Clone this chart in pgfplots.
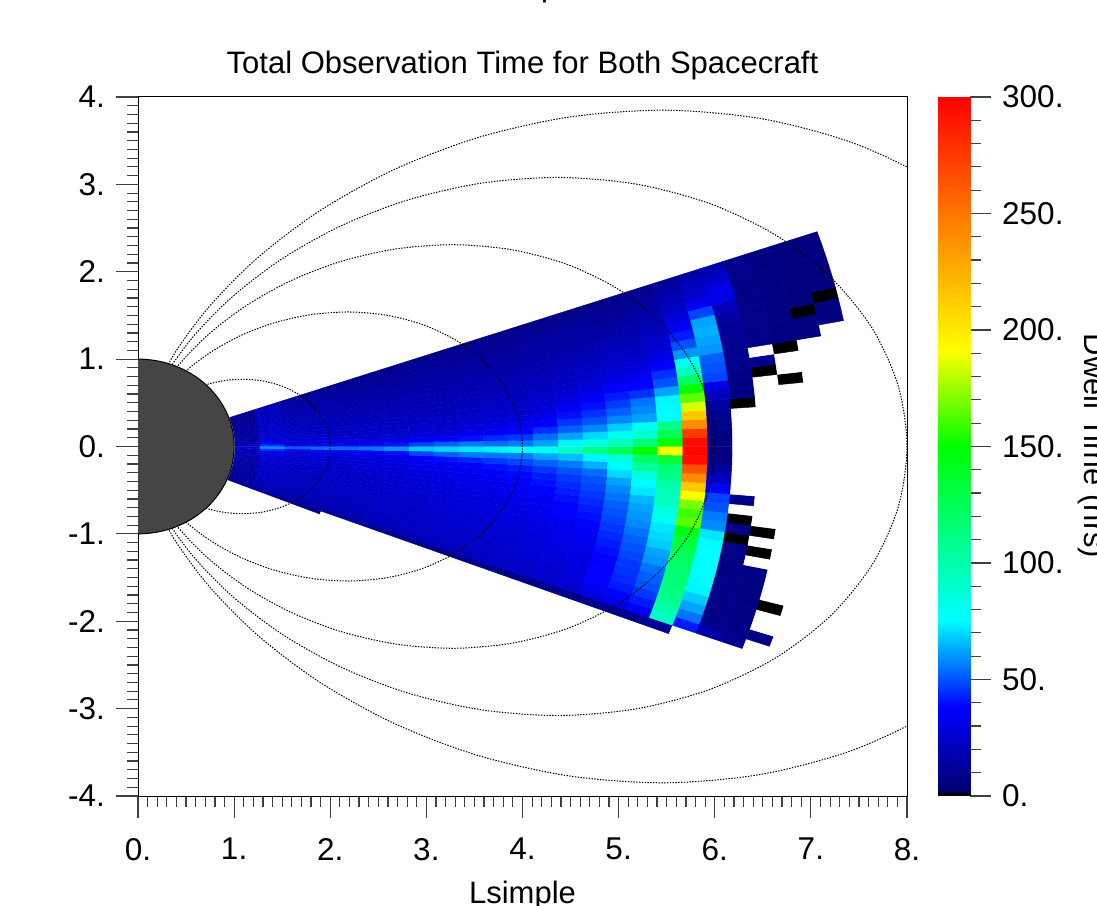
\documentclass[border=0pt]{standalone}
\usepackage{fontspec}
\setmainfont{Liberation Sans}
\usepackage{pgfplots}
\usepackage{pgfplotstable}
\pgfplotsset{compat=1.18}
\pgfplotsset{colormap={dwell}{rgb255(0)=(255,255,255) rgb255(8)=(255,255,255) rgb255(9)=(0,0,0) rgb255(11.2)=(0,0,0) rgb255(11.4)=(0,0,110) rgb255(48)=(0,0,255) rgb255(85.5)=(0,255,255) rgb255(160)=(0,255,0) rgb255(201)=(255,255,0) rgb255(310)=(255,0,0)}}
\newcommand{\bigf}{\fontsize{31.5}{36}\selectfont}
\newcommand{\titf}{\fontsize{31}{36}\selectfont}
\pgfplotstableread{
u v
0.01734 -0.06471
0.04001 -0.10992
0.07548 -0.16187
0.12500 -0.21651
0.18870 -0.26949
0.26559 -0.31651
0.35355 -0.35355
0.44953 -0.37720
0.54966 -0.38488
0.64952 -0.37500
0.74444 -0.34714
0.82976 -0.30201
0.90122 -0.24148
0.95511 -0.16841
0.98863 -0.08649
1.00000 0.00000
0.98863 0.08649
0.95511 0.16841
0.90122 0.24148
0.82976 0.30201
0.74444 0.34714
0.64952 0.37500
0.54966 0.38488
0.44953 0.37720
0.35355 0.35355
0.26559 0.31651
0.18870 0.26949
0.12500 0.21651
0.07548 0.16187
0.04001 0.10992
0.01734 0.06471
}\fieldshape
\begin{document}
\begin{tikzpicture}[x=1pt,y=1pt]
\begin{axis}[
  at={(138pt,109pt)},anchor=south west,scale only axis,
  width=769pt,height=699pt,
  xmin=0,xmax=8,ymin=-4,ymax=4,
  xtick={0,...,8},ytick={-4,...,4},
  xticklabels={0.,1.,2.,3.,4.,5.,6.,7.,8.},
  yticklabels={-4.,-3.,-2.,-1.,0.,1.,2.,3.,4.},
  minor x tick num=9,minor y tick num=9,
  xtick pos=bottom,ytick pos=left,
  tick align=outside,
  major tick length=22pt,minor tick length=11pt,
  tick style={line width=1.2pt,color=black!75},
  axis line style={line width=1pt},
  tick label style={font=\bigf},
  xticklabel style={inner sep=0pt,yshift=-20pt},
  yticklabel style={inner sep=0pt,xshift=-11pt},
  title={Total Observation Time for Both Spacecraft},
  title style={font=\titf,yshift=8pt},
  xlabel={Lsimple},
  xlabel style={font=\titf,yshift=-17pt},
  colormap name=dwell,
  point meta min=-10,point meta max=300,
]
\addplot[surf,shader=flat corner,mesh/rows=26,mesh/cols=42,point meta=explicit]
 table[row sep=\\,header=false,meta index=0,
  x expr={(1.01+0.2588*(\coordindex-mod(\coordindex,42))/42)*cos(1.01*(mod(\coordindex,42)-22))},
  y expr={(1.01+0.2588*(\coordindex-mod(\coordindex,42))/42)*sin(1.01*(mod(\coordindex,42)-22))}] {
10\\ 11\\ 12\\ 12\\ 13\\ 13\\ 13\\ 14\\ 14\\ 14\\ 15\\ 15\\ 15\\ 16\\ 16\\ 17\\ 17\\ 18\\ 18\\ 19\\ 20\\ 30\\ 18\\ 17\\ 16\\ 16\\ 15\\ 15\\ 14\\ 14\\ 13\\ 13\\ 13\\ 12\\ 12\\ 12\\ 11\\ 11\\ 11\\ 10\\ 10\\ -10\\
12\\ 16\\ 18\\ 19\\ 20\\ 21\\ 22\\ 22\\ 23\\ 23\\ 24\\ 24\\ 25\\ 25\\ 26\\ 26\\ 27\\ 27\\ 30\\ 36\\ 45\\ 60\\ 46\\ 36\\ 30\\ 27\\ 26\\ 26\\ 25\\ 25\\ 24\\ 24\\ 23\\ 23\\ 23\\ 22\\ 22\\ 21\\ 21\\ 20\\ 18\\ -10\\
10\\ 14\\ 18\\ 19\\ 20\\ 20\\ 21\\ 21\\ 22\\ 22\\ 22\\ 23\\ 23\\ 24\\ 24\\ 24\\ 25\\ 25\\ 26\\ 28\\ 32\\ 52\\ 32\\ 28\\ 25\\ 24\\ 23\\ 23\\ 22\\ 22\\ 20\\ 20\\ 19\\ 19\\ 18\\ 18\\ 17\\ 17\\ 16\\ 15\\ 13\\ -10\\
9\\ 13\\ 18\\ 19\\ 20\\ 20\\ 21\\ 21\\ 22\\ 22\\ 22\\ 23\\ 23\\ 24\\ 24\\ 25\\ 26\\ 27\\ 29\\ 31\\ 34\\ 54\\ 34\\ 29\\ 26\\ 24\\ 23\\ 22\\ 22\\ 21\\ 20\\ 19\\ 18\\ 18\\ 17\\ 17\\ 16\\ 15\\ 14\\ 13\\ 10\\ -10\\
-10\\ 12\\ 18\\ 19\\ 20\\ 20\\ 21\\ 21\\ 22\\ 22\\ 23\\ 23\\ 24\\ 24\\ 25\\ 25\\ 26\\ 27\\ 28\\ 30\\ 34\\ 54\\ 34\\ 29\\ 26\\ 24\\ 23\\ 22\\ 21\\ 21\\ 20\\ 19\\ 18\\ 17\\ 17\\ 16\\ 15\\ 14\\ 13\\ 12\\ 10\\ -10\\
-10\\ 12\\ 18\\ 19\\ 20\\ 21\\ 21\\ 22\\ 22\\ 23\\ 23\\ 24\\ 24\\ 25\\ 25\\ 26\\ 27\\ 28\\ 29\\ 31\\ 36\\ 56\\ 36\\ 30\\ 27\\ 25\\ 23\\ 22\\ 21\\ 20\\ 19\\ 18\\ 18\\ 17\\ 16\\ 15\\ 14\\ 13\\ 13\\ 12\\ 9\\ -10\\
-10\\ 11\\ 19\\ 20\\ 21\\ 22\\ 22\\ 23\\ 23\\ 24\\ 24\\ 25\\ 25\\ 26\\ 26\\ 27\\ 28\\ 29\\ 30\\ 33\\ 40\\ 60\\ 40\\ 31\\ 27\\ 25\\ 24\\ 22\\ 21\\ 20\\ 19\\ 18\\ 18\\ 17\\ 16\\ 15\\ 14\\ 13\\ 12\\ 11\\ 9\\ -10\\
-10\\ 10\\ 20\\ 21\\ 22\\ 22\\ 23\\ 23\\ 24\\ 25\\ 25\\ 26\\ 26\\ 27\\ 28\\ 29\\ 30\\ 31\\ 33\\ 37\\ 48\\ 68\\ 48\\ 34\\ 29\\ 26\\ 24\\ 23\\ 22\\ 20\\ 19\\ 18\\ 18\\ 17\\ 16\\ 15\\ 13\\ 13\\ 12\\ 11\\ 9\\ -10\\
-10\\ 10\\ 21\\ 22\\ 23\\ 23\\ 24\\ 25\\ 25\\ 26\\ 27\\ 27\\ 28\\ 29\\ 30\\ 31\\ 32\\ 34\\ 36\\ 40\\ 52\\ 70\\ 52\\ 36\\ 30\\ 27\\ 25\\ 23\\ 22\\ 20\\ 19\\ 19\\ 18\\ 17\\ 16\\ 15\\ 14\\ 13\\ 12\\ 11\\ 8\\ -10\\
-10\\ 9\\ 21\\ 22\\ 24\\ 24\\ 25\\ 26\\ 26\\ 27\\ 28\\ 28\\ 29\\ 30\\ 31\\ 32\\ 33\\ 35\\ 37\\ 43\\ 56\\ 72\\ 56\\ 40\\ 33\\ 29\\ 26\\ 24\\ 23\\ 21\\ 20\\ 19\\ 18\\ 17\\ 16\\ 15\\ 14\\ 13\\ 12\\ 11\\ 8\\ -10\\
-10\\ 9\\ 22\\ 23\\ 24\\ 25\\ 26\\ 26\\ 27\\ 28\\ 29\\ 29\\ 30\\ 31\\ 32\\ 33\\ 35\\ 37\\ 40\\ 46\\ 55\\ 74\\ 54\\ 44\\ 36\\ 31\\ 28\\ 25\\ 23\\ 22\\ 20\\ 19\\ 18\\ 17\\ 16\\ 15\\ 14\\ 13\\ 12\\ 11\\ 8\\ -10\\
-10\\ 9\\ 23\\ 24\\ 25\\ 26\\ 26\\ 27\\ 28\\ 29\\ 30\\ 31\\ 32\\ 33\\ 34\\ 35\\ 37\\ 39\\ 42\\ 48\\ 56\\ 78\\ 56\\ 46\\ 38\\ 33\\ 29\\ 26\\ 24\\ 22\\ 21\\ 20\\ 19\\ 18\\ 16\\ 15\\ 14\\ 13\\ 12\\ 11\\ 8\\ -10\\
-10\\ 9\\ 24\\ 25\\ 26\\ 27\\ 28\\ 29\\ 30\\ 31\\ 32\\ 33\\ 34\\ 35\\ 36\\ 38\\ 40\\ 42\\ 46\\ 52\\ 62\\ 80\\ 62\\ 54\\ 45\\ 38\\ 33\\ 30\\ 27\\ 25\\ 23\\ 21\\ 20\\ 18\\ 17\\ 16\\ 15\\ 14\\ 13\\ 11\\ 8\\ -10\\
-10\\ 9\\ 25\\ 26\\ 27\\ 28\\ 30\\ 31\\ 32\\ 33\\ 34\\ 35\\ 37\\ 38\\ 40\\ 42\\ 44\\ 46\\ 50\\ 56\\ 66\\ 92\\ 74\\ 62\\ 52\\ 46\\ 40\\ 36\\ 32\\ 28\\ 25\\ 23\\ 21\\ 19\\ 18\\ 17\\ 15\\ 14\\ 13\\ 11\\ 8\\ -10\\
-10\\ 8\\ 26\\ 28\\ 29\\ 30\\ 31\\ 32\\ 33\\ 35\\ 36\\ 38\\ 40\\ 42\\ 44\\ 46\\ 48\\ 50\\ 54\\ 64\\ 74\\ 110\\ 84\\ 70\\ 58\\ 50\\ 45\\ 40\\ 36\\ 32\\ 28\\ 25\\ 23\\ 21\\ 19\\ 17\\ 15\\ 14\\ 13\\ 11\\ 8\\ -10\\
-10\\ 9\\ 30\\ 36\\ 38\\ 38\\ 38\\ 38\\ 40\\ 42\\ 44\\ 46\\ 48\\ 50\\ 52\\ 55\\ 58\\ 62\\ 70\\ 75\\ 85\\ 125\\ 95\\ 80\\ 68\\ 58\\ 52\\ 47\\ 42\\ 37\\ 32\\ 28\\ 25\\ 23\\ 21\\ 19\\ 16\\ 14\\ 12\\ 11\\ 8\\ -10\\
-10\\ 10\\ 32\\ 38\\ 42\\ 44\\ 45\\ 46\\ 48\\ 50\\ 52\\ 55\\ 58\\ 60\\ 62\\ 65\\ 72\\ 75\\ 85\\ 105\\ 120\\ 150\\ 115\\ 90\\ 78\\ 62\\ 58\\ 55\\ 45\\ 38\\ 35\\ 30\\ 26\\ 23\\ 21\\ 19\\ 17\\ 15\\ 13\\ 11\\ 8\\ -10\\
-10\\ 10\\ 36\\ 42\\ 46\\ 50\\ 52\\ 55\\ 60\\ 62\\ 68\\ 70\\ 72\\ 80\\ 85\\ 95\\ 95\\ 100\\ 110\\ 115\\ 135\\ 190\\ 150\\ 125\\ 110\\ 76\\ 75\\ 74\\ 62\\ 50\\ 45\\ 38\\ 32\\ 27\\ 24\\ 21\\ 19\\ 17\\ 15\\ 13\\ 9\\ -10\\
-10\\ 12\\ 92\\ 100\\ 108\\ 112\\ 115\\ 116\\ 118\\ 122\\ 128\\ 135\\ 145\\ 165\\ 160\\ 170\\ 190\\ 215\\ 240\\ 265\\ 295\\ 298\\ 295\\ 275\\ 240\\ 215\\ 185\\ 165\\ 150\\ 120\\ 95\\ 78\\ 60\\ 50\\ 42\\ 35\\ 30\\ 24\\ 20\\ 16\\ 12\\ -10\\
-10\\ -10\\ 42\\ 55\\ 62\\ 68\\ 74\\ 75\\ 76\\ 76\\ 76\\ 75\\ 72\\ 58\\ 56\\ 50\\ 48\\ 38\\ 22\\ 14\\ 8\\ 6\\ 6\\ 7\\ 8\\ 10\\ 14\\ 22\\ 32\\ 48\\ 50\\ 52\\ 60\\ 62\\ 64\\ 62\\ 48\\ 35\\ 26\\ 22\\ 16\\ -10\\
-10\\ -10\\ 16\\ 9\\ 8\\ 8\\ 8\\ 8\\ 8\\ 7\\ 7\\ 8\\ 0.5\\ 9\\ 0.5\\ -10\\ 8\\ -10\\ -10\\ -10\\ -10\\ -10\\ -10\\ -10\\ -10\\ -10\\ 0.5\\ 7\\ 7\\ 8\\ 9\\ 9\\ 10\\ 12\\ 12\\ 15\\ 20\\ 32\\ 32\\ 25\\ 18\\ -10\\
-10\\ -10\\ 10\\ 8\\ 7\\ 7\\ 7\\ 7\\ 7\\ 7\\ -10\\ 0.5\\ -10\\ 0.5\\ -10\\ -10\\ -10\\ -10\\ -10\\ -10\\ -10\\ -10\\ -10\\ -10\\ -10\\ -10\\ -10\\ -10\\ -10\\ 0.5\\ 9\\ -10\\ 8\\ 8\\ 8\\ 8\\ 8\\ 8\\ 8\\ 9\\ 9\\ -10\\
-10\\ -10\\ -10\\ 7\\ -10\\ -10\\ 0.5\\ -10\\ -10\\ -10\\ -10\\ -10\\ -10\\ -10\\ -10\\ -10\\ -10\\ -10\\ -10\\ -10\\ -10\\ -10\\ -10\\ -10\\ -10\\ -10\\ -10\\ -10\\ 0.5\\ -10\\ -10\\ 0.5\\ 7\\ 7\\ 7\\ 7\\ 7\\ 7\\ 7\\ 7\\ 7\\ -10\\
-10\\ -10\\ -10\\ -10\\ -10\\ -10\\ -10\\ -10\\ -10\\ -10\\ -10\\ -10\\ -10\\ -10\\ -10\\ -10\\ -10\\ -10\\ -10\\ -10\\ -10\\ -10\\ -10\\ -10\\ -10\\ -10\\ -10\\ -10\\ -10\\ -10\\ -10\\ -10\\ 6\\ 6\\ 0.5\\ 6\\ 6\\ 6\\ 6\\ 6\\ 6\\ -10\\
-10\\ -10\\ -10\\ -10\\ -10\\ -10\\ -10\\ -10\\ -10\\ -10\\ -10\\ -10\\ -10\\ -10\\ -10\\ -10\\ -10\\ -10\\ -10\\ -10\\ -10\\ -10\\ -10\\ -10\\ -10\\ -10\\ -10\\ -10\\ -10\\ -10\\ -10\\ -10\\ -10\\ 6\\ 6\\ 0.5\\ 6\\ 6\\ 6\\ 6\\ 6\\ -10\\
-10\\ -10\\ -10\\ -10\\ -10\\ -10\\ -10\\ -10\\ -10\\ -10\\ -10\\ -10\\ -10\\ -10\\ -10\\ -10\\ -10\\ -10\\ -10\\ -10\\ -10\\ -10\\ -10\\ -10\\ -10\\ -10\\ -10\\ -10\\ -10\\ -10\\ -10\\ -10\\ -10\\ -10\\ -10\\ -10\\ -10\\ -10\\ -10\\ -10\\ -10\\ -10\\
};
\pgfplotsset{fieldline/.style={black,line width=1pt,dash pattern=on 1.4pt off 1.4pt,smooth,mark=none}}
\addplot[fieldline] table[x expr=\thisrow{u}*2,y expr=\thisrow{v}*2] {\fieldshape};
\addplot[fieldline] table[x expr=\thisrow{u}*4,y expr=\thisrow{v}*4] {\fieldshape};
\addplot[fieldline] table[x expr=\thisrow{u}*6,y expr=\thisrow{v}*6] {\fieldshape};
\addplot[fieldline] table[x expr=\thisrow{u}*8,y expr=\thisrow{v}*8] {\fieldshape};
\addplot[fieldline] table[x expr=\thisrow{u}*10,y expr=\thisrow{v}*10] {\fieldshape};
\draw[fill=black!73,line width=1pt] (axis cs:0,0) ellipse [x radius=1,y radius=1];
\end{axis}
\begin{axis}[
  at={(938pt,109pt)},anchor=south west,scale only axis,
  width=32pt,height=699pt,
  xmin=0,xmax=1,ymin=0,ymax=300,
  axis x line=none,axis y line*=right,
  xtick=\empty,
  ytick={0,50,...,300},
  yticklabels={0.,50.,100.,150.,200.,250.,300.},
  minor y tick num=4,
  tick align=outside,
  major tick length=21pt,minor tick length=11pt,
  tick style={line width=1.2pt,color=black!75},
  axis line style={line width=1pt,color=black!75},
  yticklabel style={font=\bigf,inner sep=0pt,xshift=11pt,anchor=west},
  colormap name=dwell,
  point meta min=-10,point meta max=300,
]
\addplot[surf,shader=interp,point meta=y,mesh/rows=2,mesh/cols=2] coordinates {(0,-10)(1,-10)(0,300)(1,300)};
\end{axis}
\node[rotate=-90,anchor=base,font=\titf] at (1084pt,459pt) {Dwell Time (hrs)};
\node[anchor=base west,font=\titf,inner sep=0pt] at (541pt,908pt) {p};
\pgfresetboundingbox
\useasboundingbox (0pt,0pt) rectangle (1097pt,905pt);
\end{tikzpicture}
\end{document}
